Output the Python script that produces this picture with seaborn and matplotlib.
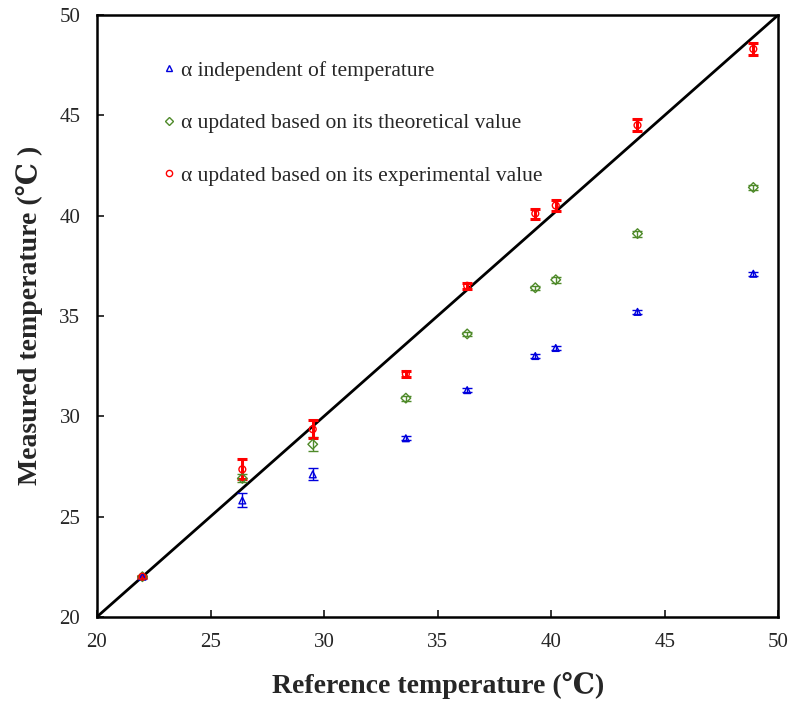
import matplotlib
matplotlib.use("Agg")
import matplotlib.pyplot as plt
import seaborn as sns
import pandas as pd

# Reference temperatures (x)
ref_temp = [22.0, 26.4, 29.5, 33.6, 36.3, 39.3, 40.2, 43.8, 48.9]

# Measured temperatures for each method
indep = [22.0, 25.8, 27.1, 28.9, 31.3, 33.0, 33.4, 35.2, 37.1]
indep_err = [0.05, 0.35, 0.3, 0.1, 0.1, 0.1, 0.1, 0.1, 0.1]

theo = [22.0, 26.9, 28.6, 30.9, 34.1, 36.4, 36.8, 39.1, 41.4]
theo_err = [0.05, 0.2, 0.35, 0.12, 0.12, 0.1, 0.15, 0.15, 0.12]

expe = [22.0, 27.35, 29.35, 32.1, 36.5, 40.1, 40.5, 44.5, 48.3]
expe_err = [0.05, 0.5, 0.45, 0.15, 0.15, 0.25, 0.25, 0.3, 0.3]

labels = ["\u03b1 independent of temperature",
          "\u03b1 updated based on its theoretical value",
          "\u03b1 updated based on its experimental value"]
colors = ["#0000dd", "#4f8a2a", "#ff0000"]
markers = ["^", "D", "o"]

df = pd.concat([
    pd.DataFrame({"ref": ref_temp, "meas": indep, "err": indep_err, "method": labels[0]}),
    pd.DataFrame({"ref": ref_temp, "meas": theo, "err": theo_err, "method": labels[1]}),
    pd.DataFrame({"ref": ref_temp, "meas": expe, "err": expe_err, "method": labels[2]}),
], ignore_index=True)

sns.set_style("white")
plt.rcParams['font.family'] = ['Liberation Serif', 'DejaVu Serif']

fig = plt.figure(figsize=(7.95, 7.09), dpi=100)
ax = fig.add_axes([0.122, 0.130, 0.857, 0.849])

# ligne 1:1
ax.plot([20, 50], [20, 50], color="black", lw=2, zorder=1)

# barres d'erreur
for lab, col in zip(labels, colors):
    sub = df[df["method"] == lab]
    lw = 2.2 if col == "#ff0000" else 1.0
    ax.errorbar(sub["ref"], sub["meas"], yerr=sub["err"], fmt="none",
                ecolor=col, elinewidth=lw, capsize=3.5, capthick=lw, zorder=2)

sns.scatterplot(data=df, x="ref", y="meas", hue="method", style="method",
                palette=dict(zip(labels, colors)), markers=dict(zip(labels, markers)),
                s=24, facecolor="none", linewidth=1.0, ax=ax, zorder=3)

# markers en contour uniquement
for coll in ax.collections:
    ec = coll.get_facecolors()
    if len(ec):
        coll.set_edgecolors(ec)
        coll.set_facecolors("none")

handles, _ = ax.get_legend_handles_labels()
for h, col in zip(handles, colors):
    h.set_markerfacecolor("none")
    h.set_markeredgecolor(col)
    h.set_markersize(4.5)
ax.legend(handles, labels, loc="upper left", bbox_to_anchor=(0.06, 0.956),
          frameon=False, fontsize=15.5, labelspacing=1.5, handletextpad=0.0,
          handlelength=1.1, markerscale=1.0)

ax.set_xlim(20, 50)
ax.set_ylim(20, 50)
ax.set_xticks(range(20, 51, 5))
ax.set_yticks(range(20, 51, 5))
ax.tick_params(direction="in", length=5, width=1.3, labelsize=15, pad=12,
               top=False, right=False, bottom=True, left=True)
for sp in ax.spines.values():
    sp.set_linewidth(1.8)
    sp.set_color("black")

ax.set_xlabel("Reference temperature (\u2103)", fontsize=20, fontweight="bold", labelpad=14)
ax.set_ylabel("Measured temperature (\u2103 )", fontsize=20, fontweight="bold", labelpad=12)

fig.savefig("out.png", dpi=100)
